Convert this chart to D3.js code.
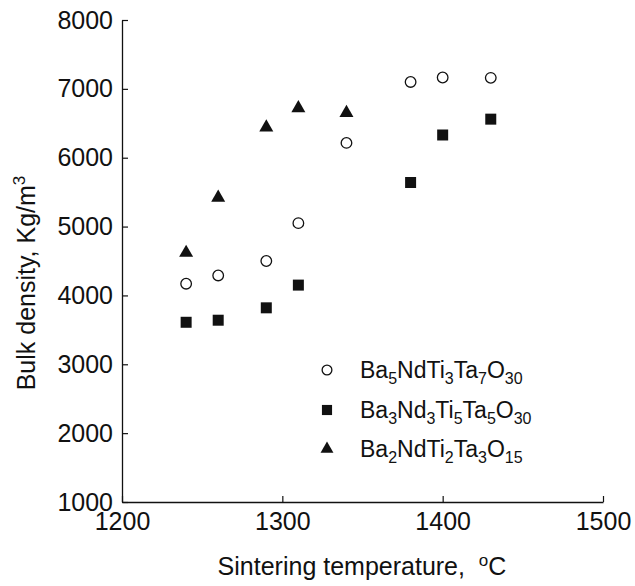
<!DOCTYPE html>
<html>
<head>
<meta charset="utf-8">
<script src="https://cdn.jsdelivr.net/npm/d3@7"></script>
<style>
  body { margin: 0; background: #fff; }
  svg text { font-family: "Liberation Sans", Arial, Helvetica, sans-serif; fill: #111; }
</style>
</head>
<body>
<svg id="chart" width="635" height="586"></svg>
<script>
// sintering temperatures (deg C) of each series
const tempA = [1240, 1260, 1290, 1310, 1340, 1380, 1400, 1430];
const densA = [4170, 4290, 4500, 5050, 6215, 7100, 7165, 7160];

const tempB = [1240, 1260, 1290, 1310, 1380, 1400, 1430];
const densB = [3610, 3640, 3820, 4150, 5640, 6330, 6560];

const tempC = [1240, 1260, 1290, 1310, 1340];
const densC = [4620, 5420, 6440, 6720, 6650];

const xTicks = [1200, 1300, 1400, 1500];
const yTicks = [1000, 2000, 3000, 4000, 5000, 6000, 7000, 8000];

// legend formulas split into [text, subscript] pairs
const formulaA = [["Ba", "5"], ["NdTi", "3"], ["Ta", "7"], ["O", "30"]];
const formulaB = [["Ba", "3"], ["Nd", "3"], ["Ti", "5"], ["Ta", "5"], ["O", "30"]];
const formulaC = [["Ba", "2"], ["NdTi", "2"], ["Ta", "3"], ["O", "15"]];

const ink = "#111";

let svg = d3.select("#chart");

let x = d3.scaleLinear().domain([1200, 1500]).range([122, 603]);
let y = d3.scaleLinear().domain([1000, 8000]).range([502, 20]);

// axes, ticks point inward
let xAxis = svg.append("g")
    .attr("transform", "translate(0," + y(1000) + ")")
    .call(d3.axisBottom(x).tickValues(xTicks).tickFormat(d3.format("d"))
        .tickSizeInner(-6).tickSizeOuter(0).tickPadding(10));

let yAxis = svg.append("g")
    .attr("transform", "translate(" + x(1200) + ",0)")
    .call(d3.axisLeft(y).tickValues(yTicks).tickFormat(d3.format("d"))
        .tickSizeInner(-6).tickSizeOuter(0).tickPadding(9));

[xAxis, yAxis].forEach(function (g) {
    g.attr("font-size", null).attr("font-family", null);
    g.select(".domain").attr("stroke", ink).attr("stroke-width", 1.3);
    g.selectAll(".tick line").attr("stroke", ink).attr("stroke-width", 1.2);
    g.selectAll(".tick text")
        .style("font-size", "25px")
        .attr("fill", ink);
});

// series definitions
const series = [
    { temps: tempA, vals: densA, shape: d3.symbolCircle, size: 88, fill: "#fff", stroke: ink, formula: formulaA },
    { temps: tempB, vals: densB, shape: d3.symbolSquare, size: 121, fill: ink, stroke: "none", formula: formulaB },
    { temps: tempC, vals: densC, shape: d3.symbolTriangle, size: 85, fill: ink, stroke: "none", formula: formulaC }
];

series.forEach(function (s) {
    let pts = s.temps.map(function (t, i) { return { t: t, v: s.vals[i] }; });
    svg.append("g").selectAll("path")
        .data(pts)
        .enter().append("path")
        .attr("transform", function (d) {
            return "translate(" + x(d.t) + "," + y(d.v) + ")";
        })
        .attr("d", d3.symbol().type(s.shape).size(s.size))
        .attr("fill", s.fill)
        .attr("stroke", s.stroke)
        .attr("stroke-width", 1.3);
});

// legend
const legendX = 327;
const legendY = [370, 410, 449];
series.forEach(function (s, i) {
    svg.append("path")
        .attr("transform", "translate(" + legendX + "," + legendY[i] + ")")
        .attr("d", d3.symbol().type(s.shape).size(s.size * 0.85))
        .attr("fill", s.fill)
        .attr("stroke", s.stroke)
        .attr("stroke-width", 1.3);

    let t = svg.append("text")
        .attr("x", 360)
        .attr("y", legendY[i] + 8)
        .style("font-size", "23px");
    s.formula.forEach(function (p, j) {
        t.append("tspan").attr("dy", j === 0 ? 0 : -6).text(p[0]);
        t.append("tspan").attr("dy", 6).style("font-size", "16px").text(p[1]);
    });
});

// axis titles
let xt = svg.append("text")
    .attr("x", 362)
    .attr("y", 575)
    .attr("text-anchor", "middle")
    .style("font-size", "25px");
xt.append("tspan").text("Sintering temperature,\u00a0\u00a0");
xt.append("tspan").attr("dy", -9).style("font-size", "17px").text("o");
xt.append("tspan").attr("dy", 9).text("C");

let yt = svg.append("text")
    .attr("transform", "translate(35,283) rotate(-90)")
    .attr("text-anchor", "middle")
    .style("font-size", "25px");
yt.append("tspan").text("Bulk density, Kg/m");
yt.append("tspan").attr("dy", -10).style("font-size", "17px").text("3");
</script>
</body>
</html>
